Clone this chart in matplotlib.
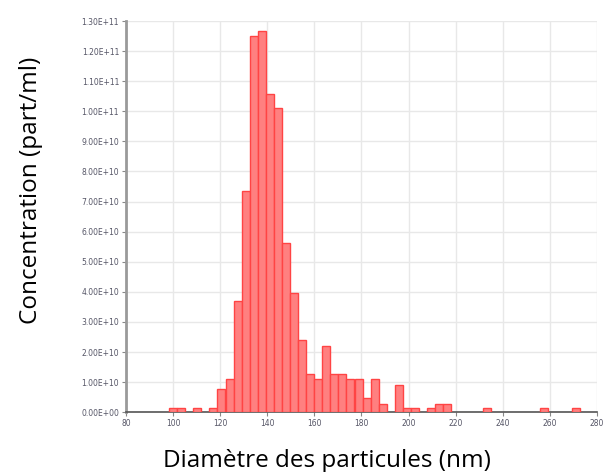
import matplotlib
matplotlib.use("Agg")
import matplotlib.pyplot as plt
import numpy as np
from matplotlib.ticker import FuncFormatter, MultipleLocator

# bin centres (nm) of the non-empty bins and their concentrations (part/ml)
diameters = [100.0, 103.4, 110.3, 117.1, 120.5, 124.0, 127.4, 130.8, 134.2,
             137.7, 141.1, 144.5, 147.9, 151.4, 154.8, 158.2, 161.6, 165.1,
             168.5, 171.9, 175.3, 178.8, 182.2, 185.6, 189.0, 195.9, 199.3,
             202.7, 209.6, 213.0, 216.4, 233.5, 257.5, 271.2]
concentrations = [0.13e10, 0.13e10, 0.13e10, 0.13e10, 0.78e10, 1.10e10,
                  3.69e10, 7.36e10, 12.50e10, 12.66e10, 10.56e10, 10.10e10,
                  5.61e10, 3.96e10, 2.40e10, 1.27e10, 1.10e10, 2.21e10,
                  1.27e10, 1.27e10, 1.12e10, 1.12e10, 0.47e10, 1.12e10,
                  0.27e10, 0.92e10, 0.13e10, 0.13e10, 0.13e10, 0.27e10,
                  0.27e10, 0.13e10, 0.13e10, 0.13e10]
bin_width = 3.42

fig = plt.figure(figsize=(6.1, 4.72), dpi=100)
ax = fig.add_axes([0.2066, 0.1265, 0.772, 0.829])

ax.bar(diameters, concentrations, width=bin_width, align="center",
       color="#ff8080", edgecolor="#ff4444", linewidth=1.0, zorder=3)

ax.set_xlim(80, 280)
ax.set_ylim(0, 1.3e11)
ax.xaxis.set_major_locator(MultipleLocator(20))
ax.yaxis.set_major_locator(MultipleLocator(1e10))
ax.yaxis.set_major_formatter(FuncFormatter(lambda v, p: f"{v:.2E}"))

ax.grid(True, color="#e8e8e8", linewidth=1.0, zorder=0)
for side in ("top", "right"):
    ax.spines[side].set_visible(False)
ax.spines["left"].set_color("#9a9a9a")
ax.spines["left"].set_linewidth(2.0)
ax.spines["bottom"].set_color("#555555")
ax.spines["bottom"].set_linewidth(1.2)

ax.tick_params(axis="both", labelsize=5.5, labelcolor="#555566",
               color="#888888", length=3, width=0.8, pad=2)

# axis titles sit off-centre in the original, so place them on the figure
label_font = ["Open Sans", "DejaVu Sans"]
fig.text(327 / 610, 1 - 467 / 472, "Diamètre des particules (nm)",
         fontsize=17.5, family=label_font, ha="center", va="baseline")
fig.text(31 / 610, 1 - 190 / 472, "Concentration (part/ml)",
         fontsize=17.5, family=label_font, ha="center", va="center",
         rotation=90)

fig.savefig("out.png", dpi=100)
